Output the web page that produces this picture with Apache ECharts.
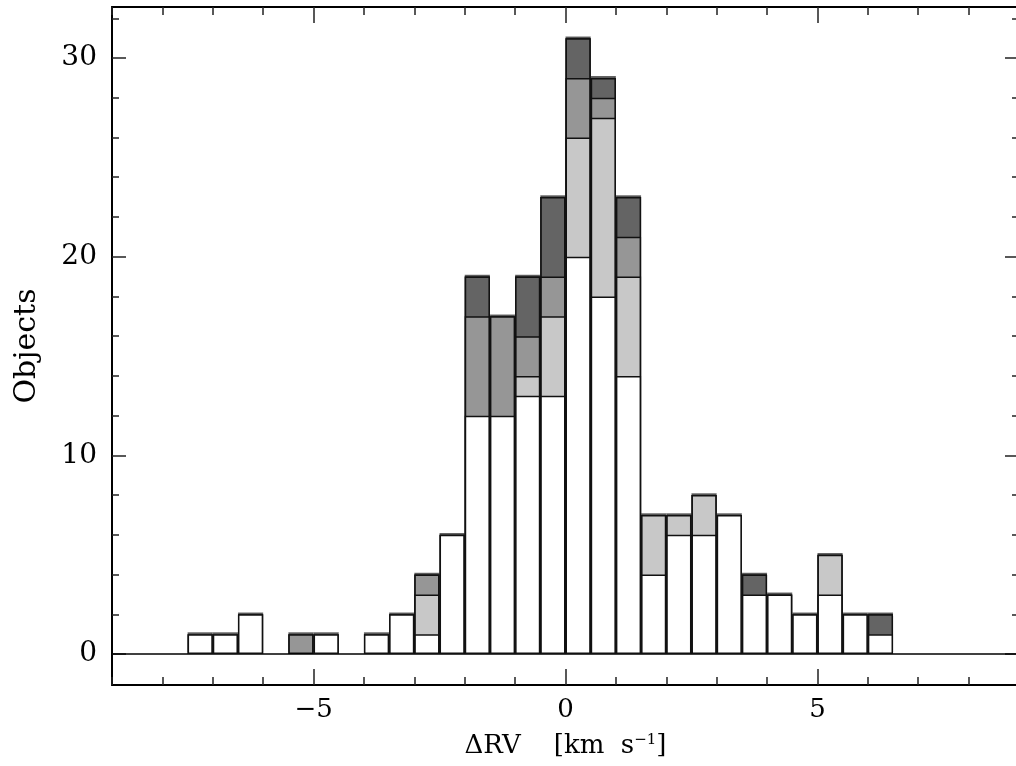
<!DOCTYPE html>
<html>
<head>
<meta charset="utf-8">
<script src="https://cdn.jsdelivr.net/npm/echarts@6/dist/echarts.min.js"></script>
<style>
html,body{margin:0;padding:0;background:#fff;}
#chart{width:1016px;height:766px;}
</style>
</head>
<body>
<div id="chart"></div>
<script>
// Bin centres (bins 0.5 km/s wide)
const binCenters = [-7.25,-6.75,-6.25,-5.75,-5.25,-4.75,-4.25,-3.75,-3.25,-2.75,-2.25,-1.75,-1.25,-0.75,-0.25,0.25,0.75,1.25,1.75,2.25,2.75,3.25,3.75,4.25,4.75,5.25,5.75,6.25];
// Stacked counts per category (bottom to top)
const whiteCounts = [1,1,2,0,0,1,0,1,2,1,6,12,12,13,13,20,18,14,4,6,6,7,3,3,2,3,2,1];
const lightCounts = [0,0,0,0,0,0,0,0,0,2,0,0,0,1,4,6,9,5,3,1,2,0,0,0,0,2,0,0];
const midCounts   = [0,0,0,0,1,0,0,0,0,1,0,5,5,2,2,3,1,2,0,0,0,0,0,0,0,0,0,0];
const darkCounts  = [0,0,0,0,0,0,0,0,0,0,0,2,0,3,4,2,1,2,0,0,0,0,1,0,0,0,0,1];
// Tick values
const xMajorTicks = [-5,0,5];
const xMinorTicks = [-9,-8,-7,-6,-4,-3,-2,-1,1,2,3,4,6,7,8,9];
const yMajorTicks = [0,10,20,30];
const yMinorTicks = [2,4,6,8,12,14,16,18,22,24,26,28,32];

const layerColors = ['#ffffff','#c8c8c8','#969696','#646464'];
const layers = [whiteCounts, lightCounts, midCounts, darkCounts];

const XMIN = -9, XMAX = 9, YMIN = -1.56, YMAX = 32.57;
const binWidthPx = 907 / (XMAX - XMIN) * 0.5;

// cumulative tops of each layer (white, +light, +mid, +dark)
const cumulative = layers.map((_, k) =>
  binCenters.map((c, i) => layers.slice(0, k + 1).reduce((s, a) => s + a[i], 0)));

function minus(v){ return v < 0 ? '\u2212' + Math.abs(v) : String(v); }

const chart = echarts.init(document.getElementById('chart'), null, {renderer:'canvas'});

function xAx(pos, ticks, len, showLabel, showLine){
  return {
    type:'value', position:pos, min:XMIN, max:XMAX,
    axisLine:{show:showLine, onZero:false, lineStyle:{color:'#000', width:2}},
    axisTick:{show:true, inside:true, length:len, customValues:ticks, lineStyle:{color:'#222', width:1.5}},
    axisLabel:{show:showLabel, customValues:xMajorTicks, formatter:minus, margin:12,
      fontFamily:'DejaVu Serif', fontSize:26, color:'#000'},
    splitLine:{show:false}
  };
}
function yAx(pos, ticks, len, showLabel, showLine){
  return {
    type:'value', position:pos, min:YMIN, max:YMAX,
    axisLine:{show:showLine, onZero:false, lineStyle:{color:'#000', width:2}},
    axisTick:{show:true, inside:true, length:len, customValues:ticks, lineStyle:{color:'#222', width:1.5}},
    axisLabel:{show:showLabel, customValues:yMajorTicks, margin:15,
      fontFamily:'DejaVu Serif', fontSize:28, color:'#000'},
    splitLine:{show:false}
  };
}

const xAxes = [
  Object.assign(xAx('bottom', xMajorTicks, 16, true, true), {
    name:'\u0394RV    [km  s{sup|\u22121}]', nameLocation:'middle', nameGap:48,
    nameTextStyle:{fontFamily:'DejaVu Serif', fontSize:26, color:'#000',
      rich:{sup:{fontFamily:'DejaVu Serif', fontSize:15, color:'#000', verticalAlign:'top', padding:[0,0,10,0]}}}
  }),
  xAx('bottom', xMinorTicks, 8, false, false),
  xAx('top', xMajorTicks, 16, false, true),
  xAx('top', xMinorTicks, 8, false, false)
];
const yAxes = [
  Object.assign(yAx('left', yMajorTicks, 14, true, true), {
    name:'Objects', nameLocation:'middle', nameGap:70,
    nameTextStyle:{fontFamily:'DejaVu Serif', fontSize:30, color:'#000'}
  }),
  yAx('left', yMinorTicks, 7, false, false),
  yAx('right', yMajorTicks, 14, false, true),
  yAx('right', yMinorTicks, 7, false, false)
];

// draw the tallest cumulative layer first, white last (overlapping bars)
const order = [3, 2, 1, 0];
const series = order.map((k, j) => ({
  type:'bar', xAxisIndex:0, yAxisIndex:0,
  barWidth: binWidthPx, barGap:'-100%',
  data: binCenters.map((c, i) => [c, layers[k][i] === 0 ? '-' : cumulative[k][i]]),
  silent:true,
  z: 2 + j,
  itemStyle:{color:layerColors[k], borderColor:'#111', borderWidth:1.5},
  emphasis:{disabled:true},
  animation:false
}));
// outline "shadow" strip above every bin: a separate outer layer with the full total
series.unshift({
  type:'bar', xAxisIndex:0, yAxisIndex:0,
  barWidth: binWidthPx, barGap:'-100%',
  data: binCenters.map((c, i) => [c, cumulative[3][i] === 0 ? '-' : cumulative[3][i]]),
  silent:true, z:1,
  itemStyle:{color:'#fff', borderColor:'#111', borderWidth:1.5,
    shadowColor:'rgba(70,70,70,0.8)', shadowOffsetY:-1.8, shadowOffsetX:0, shadowBlur:0},
  emphasis:{disabled:true},
  animation:false,
  markLine:{
    silent:true, symbol:'none', label:{show:false}, animation:false,
    lineStyle:{color:'#000', width:1.5, type:'solid'},
    data:[{yAxis:0}]
  }
});

chart.setOption({
  animation:false,
  backgroundColor:'#fff',
  grid:{left:112, top:7, right:-3, bottom:81, containLabel:false, outerBoundsMode:'none'},
  xAxis:xAxes,
  yAxis:yAxes,
  series:series
});
</script>
</body>
</html>
